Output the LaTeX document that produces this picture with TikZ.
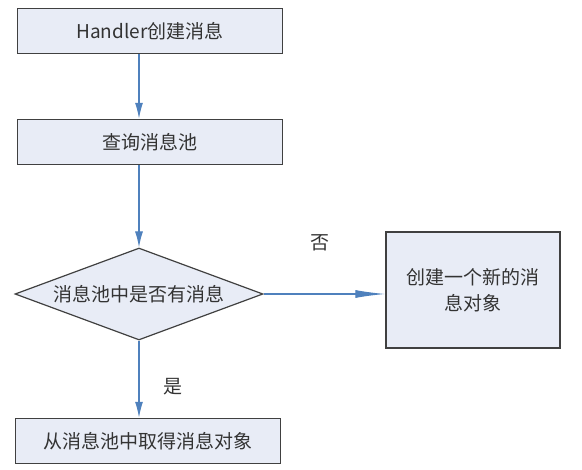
\documentclass[tikz,border=0pt]{standalone}
\usepackage{fontspec}
\newfontfamily\cjk{Noto Sans CJK SC}
\usetikzlibrary{shapes.geometric,arrows.meta}
\definecolor{boxfill}{RGB}{232,236,246}
\definecolor{linkblue}{RGB}{79,129,189}
\begin{document}
\begin{tikzpicture}[x=1pt,y=-1pt,
		stepbox/.style = {draw=black!75, line width=1.4pt, fill=boxfill, text=black!80,
			minimum width=265pt, minimum height=45pt, inner sep=0pt,
			font=\cjk\fontsize{19}{26}\selectfont},
		choice/.style = {diamond, aspect=2.7, draw=black!75, line width=1.2pt, fill=boxfill, text=black!80,
			minimum width=248pt, minimum height=92pt, inner sep=0pt,
			font=\cjk\fontsize{19}{26}\selectfont},
		answer/.style = {text=black!80, font=\cjk\fontsize{19}{26}\selectfont},
		link/.style = {draw=linkblue, line width=1.2pt, -{Latex[length=16pt,width=8pt]}}
	]
	\useasboundingbox (0,0) rectangle (582,470);
	% boxes
	\node[stepbox] (create) at (150,31) {Handler创建消息};
	\node[stepbox] (query) at (150,142) {查询消息池};
	\node[choice] (check) at (139,294) {消息池中是否有消息};
	\node[stepbox, minimum width=174pt, minimum height=116pt, align=center]
		(newmsg) at (473,290) {创建一个新的消\\息对象};
	\node[stepbox] (fetch) at (148,441) {从消息池中取得消息对象};
	% labels
	\node[answer] (no) at (320,243) {否};
	\node[answer] (yes) at (173,387) {是};
	% arrows
	\draw[link] (create.south -| check.north) -- (query.north -| check.north);
	\draw[link] (query.south -| check.north) -- (check.north);
	\draw[link, -{Latex[length=30pt,width=8pt]}] (check.east) -- (newmsg.west |- check.east);
	\draw[link] (check.south) -- (check.south |- fetch.north);
\end{tikzpicture}
\end{document}
